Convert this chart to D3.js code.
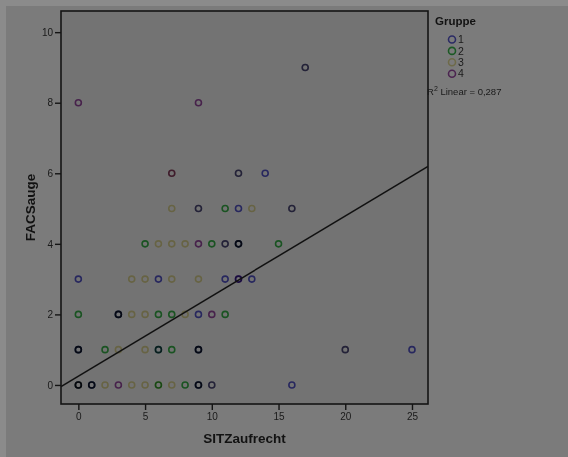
<!DOCTYPE html>
<html>
<head>
<meta charset="utf-8">
<script src="https://cdn.jsdelivr.net/npm/d3@7"></script>
<style>
  html, body { margin: 0; padding: 0; background: #8b8b8b; }
  svg { display: block; font-family: "Liberation Sans", Arial, sans-serif; }
  .mark { mix-blend-mode: multiply; }
</style>
</head>
<body>
<svg id="chart" width="568" height="457"></svg>
<script>
// Scatter of FACSauge against SITZaufrecht, split by Gruppe, with a linear fit.
// Markers multiply onto the backdrop, so coincident cases of different groups darken.

const groups = ["1", "2", "3", "4"];
const groupColors = ["#5656d0", "#38b84a", "#e4dc96", "#9c4aa6"];

// [SITZaufrecht, FACSauge] per group
const group1 = [[0,0],[1,0],[9,0],[10,0],[16,0],[0,1],[9,1],[6,1],[20,1],[25,1],[3,2],[9,2],
                [0,3],[6,3],[11,3],[12,3],[13,3],[11,4],[12,4],[9,5],[12,5],[16,5],
                [12,6],[14,6],[17,9]];
const group2 = [[0,0],[1,0],[6,0],[8,0],[9,0],[0,1],[2,1],[6,1],[7,1],[9,1],[0,2],[3,2],
                [6,2],[7,2],[11,2],[5,4],[10,4],[12,4],[15,4],[11,5]];
const group3 = [[0,0],[2,0],[4,0],[5,0],[6,0],[7,0],[10,0],[3,1],[5,1],[20,1],[4,2],[5,2],
                [8,2],[4,3],[5,3],[7,3],[9,3],[6,4],[7,4],[8,4],[11,4],[7,5],[9,5],[13,5],
                [16,5],[7,6],[12,6],[17,9]];
const group4 = [[0,0],[1,0],[3,0],[9,0],[0,1],[9,1],[3,2],[10,2],[12,3],[9,4],[12,4],
                [7,6],[0,8],[9,8]];
const series = [group1, group2, group3, group4];

// Linear fit over all cases
const fitIntercept = 0.25;
const fitSlope = 0.227;
const rSquared = "0,287";

const xTicks = [0, 5, 10, 15, 20, 25];
const yTicks = [0, 2, 4, 6, 8, 10];
const xTitle = "SITZaufrecht";
const yTitle = "FACSauge";
const legendTitle = "Gruppe";

const svg = d3.select("#chart");

// outer panel
svg.append("rect").attr("x", 6).attr("y", 6).attr("width", 562).attr("height", 451)
  .attr("fill", "#7b7b7b");

const plot = { left: 61, top: 11, right: 428, bottom: 404 };
const x = d3.scaleLinear().domain([-1.3, 26.2]).range([plot.left, plot.right]);
const y = d3.scaleLinear().domain([-0.54, 10.6]).range([plot.bottom, plot.top]);

svg.append("rect")
  .attr("x", plot.left).attr("y", plot.top)
  .attr("width", plot.right - plot.left).attr("height", plot.bottom - plot.top)
  .attr("fill", "#737373");

svg.append("clipPath").attr("id", "plotclip")
  .append("rect")
  .attr("x", plot.left).attr("y", plot.top)
  .attr("width", plot.right - plot.left).attr("height", plot.bottom - plot.top);

// points
const marks = svg.append("g");
series.forEach((pts, i) => {
  marks.append("g").selectAll("circle").data(pts).join("circle")
    .attr("class", "mark")
    .attr("cx", d => x(d[0])).attr("cy", d => y(d[1]))
    .attr("r", 3)
    .attr("fill", "none")
    .attr("stroke", groupColors[i])
    .attr("stroke-width", 1.6);
});

// fit line
const xd = x.domain();
svg.append("line")
  .attr("clip-path", "url(#plotclip)")
  .attr("x1", x(xd[0])).attr("y1", y(fitIntercept + fitSlope * xd[0]))
  .attr("x2", x(xd[1])).attr("y2", y(fitIntercept + fitSlope * xd[1]))
  .attr("stroke", "#111").attr("stroke-width", 1.5);

// frame
svg.append("rect")
  .attr("x", plot.left).attr("y", plot.top)
  .attr("width", plot.right - plot.left).attr("height", plot.bottom - plot.top)
  .attr("fill", "none").attr("stroke", "#141414").attr("stroke-width", 1.6);

// axes
const xAxis = svg.append("g").attr("transform", `translate(0,${plot.bottom})`)
  .call(d3.axisBottom(x).tickValues(xTicks).tickSize(6).tickPadding(3));
const yAxis = svg.append("g").attr("transform", `translate(${plot.left},0)`)
  .call(d3.axisLeft(y).tickValues(yTicks).tickSize(6).tickPadding(2));
[xAxis, yAxis].forEach(a => {
  a.select(".domain").remove();
  a.selectAll(".tick line").attr("stroke", "#141414").attr("stroke-width", 1.4);
  a.selectAll(".tick text").attr("fill", "#1a1a1a")
    .style("font-family", "'Liberation Sans', Arial, sans-serif").style("font-size", "10px");
});

// axis titles
svg.append("text").attr("x", (plot.left + plot.right) / 2).attr("y", 443)
  .attr("text-anchor", "middle").attr("font-weight", "bold").attr("font-size", 13.5)
  .attr("fill", "#121212").text(xTitle);
svg.append("text")
  .attr("transform", `translate(35,${(plot.top + plot.bottom) / 2}) rotate(-90)`)
  .attr("text-anchor", "middle").attr("font-weight", "bold").attr("font-size", 13.5)
  .attr("fill", "#121212").text(yTitle);

// legend
const lg = svg.append("g");
lg.append("text").attr("x", 435).attr("y", 25).attr("font-weight", "bold")
  .attr("font-size", 11.5).attr("fill", "#121212").text(legendTitle);
const items = lg.selectAll("g.item").data(groups).join("g").attr("class", "item")
  .attr("transform", (d, i) => `translate(452,${39.5 + i * 11.4})`);
items.append("circle").attr("class", "mark").attr("r", 3.5).attr("fill", "none")
  .attr("stroke", (d, i) => groupColors[i]).attr("stroke-width", 1.6);
items.append("text").attr("x", 6).attr("y", 3.7).attr("font-size", 10.5)
  .attr("fill", "#1a1a1a").text(d => d);

const r2 = lg.append("text").attr("x", 427).attr("y", 95).attr("font-size", 9.5).attr("fill", "#1a1a1a");
r2.append("tspan").text("R");
r2.append("tspan").attr("dy", -4).attr("font-size", 7).text("2");
r2.append("tspan").attr("dy", 4).text(" Linear = " + rSquared);
</script>
</body>
</html>
